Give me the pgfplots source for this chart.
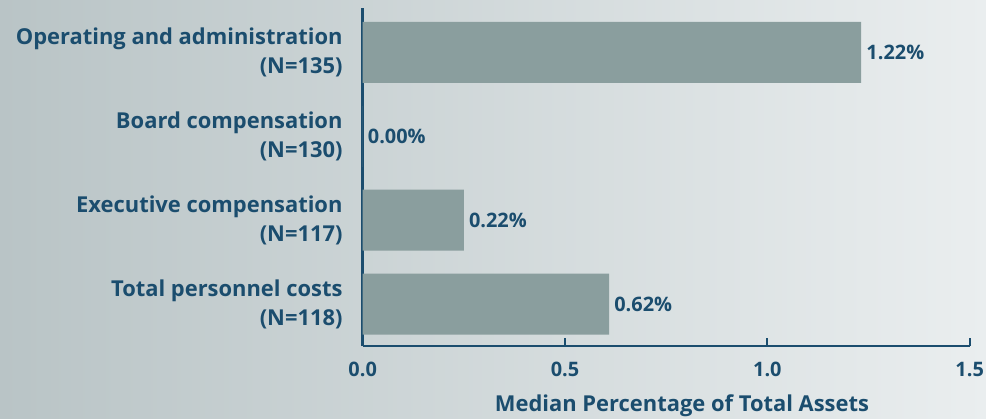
\documentclass[border=0pt]{standalone}
\usepackage{pgfplots}
\pgfplotsset{compat=1.18}
\usepackage{fontspec}
\setmainfont{Open Sans}
\definecolor{navy}{RGB}{27,77,110}
\definecolor{barc}{RGB}{138,158,158}
\definecolor{bgL}{RGB}{185,196,198}
\definecolor{bgR}{RGB}{234,238,239}
\newcommand\lab{\bfseries\fontsize{22}{29}\selectfont}
\newcommand\vlab{\bfseries\fontsize{20}{24}\selectfont}
\begin{document}
\begin{tikzpicture}
\shade[left color=bgL,right color=bgR] (-362.7bp,-73bp) rectangle (623.3bp,346bp);
\begin{axis}[
  scale only axis, width=607bp, height=338bp,
  xmin=0, xmax=1.5, ymin=-0.5, ymax=3.53,
  xbar, bar width=61bp, clip=false,
  axis x line*=bottom, axis y line*=left,
  axis line style={-, line width=2.5bp, draw=navy},
  xtick={0,0.5,1,1.5}, ytick={0,1,2,3},
  yticklabels={{Total personnel costs\\(N=118)},{Executive compensation\\(N=117)},{Board compensation\\(N=130)},{Operating and administration\\(N=135)}},
  ytick style={draw=none},
  xtick style={draw=navy, line width=2bp},
  tick align=inside, major tick length=8bp,
  xticklabel style={font=\vlab, text=navy, inner sep=0pt, yshift=-16bp, /pgf/number format/.cd, fixed, fixed zerofill, precision=1, assume math mode=true},
  yticklabel style={font=\lab, text=navy, align=right, inner sep=0pt, xshift=-20bp},
  xlabel={Median Percentage of Total Assets},
  xlabel style={font=\lab, text=navy, at={(axis description cs:0.526,0)}, anchor=north, inner sep=0pt, yshift=-49bp},
  point meta=explicit,
  nodes near coords={\pgfmathprintnumber[fixed,fixed zerofill,precision=2,assume math mode=true]{\pgfplotspointmeta}\%},
  every node near coord/.append style={font=\vlab, text=navy, anchor=west, inner sep=0pt, xshift=5bp},
]
\addplot[fill=barc, draw=none] table[x=x, y=y, meta=lab] {
x y lab
0.609 0 0.62
0.250 1 0.22
0.000 2 0.00
1.232 3 1.22
};
\end{axis}
\pgfresetboundingbox
\useasboundingbox (-362.7bp,-73bp) rectangle (623.3bp,346bp);
\end{tikzpicture}
\end{document}
